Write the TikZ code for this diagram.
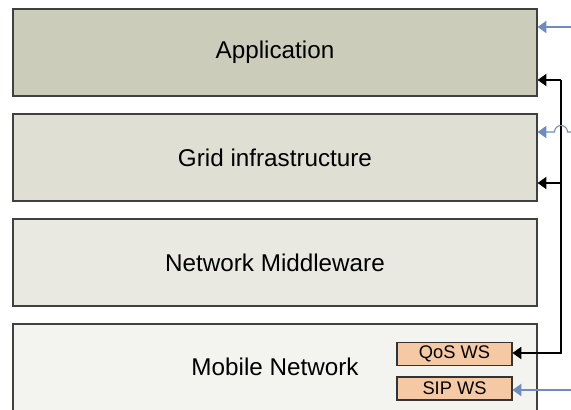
\documentclass[tikz,border=0pt]{standalone}
\usepackage{fontspec}
\setmainfont{Liberation Sans}
\usetikzlibrary{arrows.meta}
\definecolor{appfill}{HTML}{CBCDBA}
\definecolor{gridfill}{HTML}{DFDFD3}
\definecolor{midfill}{HTML}{E9E9E1}
\definecolor{mobfill}{HTML}{F3F4F0}
\definecolor{wsfill}{HTML}{F5C9A3}
\definecolor{extblue}{HTML}{6E8CBE}
\tikzset{
  layer/.style={draw=black!75, line width=0.8pt, minimum width=10.48cm, minimum height=1.74cm,
    inner sep=0pt, font=\fontsize{13.8}{16}\selectfont},
  wsbox/.style={draw=black!80, line width=0.6pt, fill=wsfill, minimum width=2.3cm, minimum height=0.46cm,
    inner sep=0pt, font=\fontsize{10.4}{12}\selectfont},
  blk/.style={draw=black, line width=0.6pt, -{Triangle[length=5pt,width=7pt]}},
  ext/.style={draw=extblue, line width=0.6pt, -{Triangle[length=5pt,width=7pt]}}
}
\begin{document}
\begin{tikzpicture}[x=0.02cm, y=-0.02cm]
  \useasboundingbox (0,0) rectangle (571,409);
  \clip (0,0) rectangle (571,409);
  % layers
  \node[layer, fill=appfill] (app) at (275,52.5) {Application};
  \node[layer, fill=gridfill] (grid) at (275,157.5) {Grid infrastructure};
  \node[layer, fill=midfill] (mid) at (275,262.5) {Network Middleware};
  \node[layer, fill=mobfill] (mob) at (275,367.5) {\hspace*{1.7cm}};
  \node (mobtxt) at (275,367) {\fontsize{13.8}{16}\selectfont Mobile Network};
  % web services
  \node[wsbox] (qos) at (454.5,354) {QoS WS};
  \node[wsbox] (sip) at (454.5,388.5) {SIP WS};
  % feedback rail
  \coordinate (rtop) at (561,80);
  \coordinate (rmid) at (561,183);
  \coordinate (rbot) at (561,353);
  \draw[blk] (rtop) -- (app.east |- rtop);
  \draw[blk] (rmid) -- (grid.east |- rmid);
  \draw[blk] (rtop) -- (rbot) -- (qos.east |- rbot);
  % external inputs
  \coordinate (inapp) at (572,27);
  \coordinate (ingrid) at (572,132);
  \coordinate (insip) at (572,390);
  \draw[ext] (inapp) -- (app.east |- inapp);
  \draw[ext] (ingrid) -- (567.5,132) arc (0:-180:6.5) -- (grid.east |- ingrid);
  \draw[ext] (insip) -- (sip.east |- insip);
\end{tikzpicture}
\end{document}
